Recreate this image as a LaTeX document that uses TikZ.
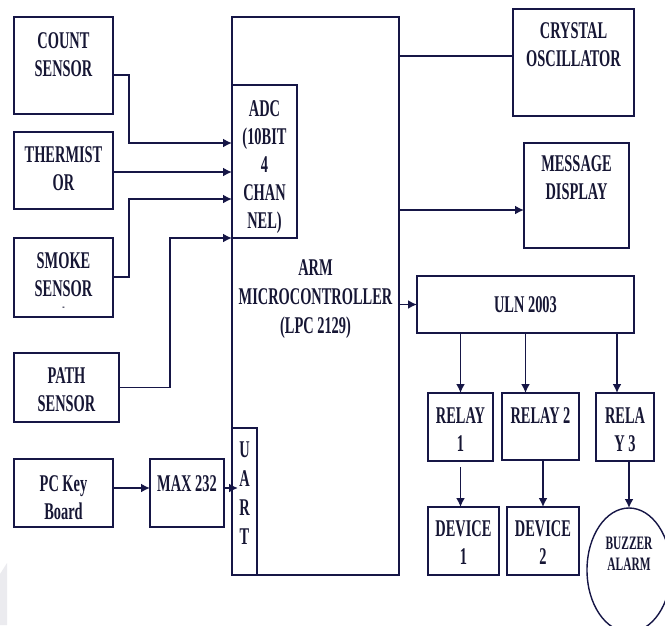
\documentclass[tikz,border=0pt]{standalone}
\usepackage{fontspec}
\setmainfont{Liberation Serif}[FakeStretch=0.6]
\usetikzlibrary{arrows.meta,positioning,shapes.geometric}
\definecolor{ink}{RGB}{22,22,70}
\definecolor{txt}{RGB}{22,22,52}

\begin{document}
\begin{tikzpicture}[x=1pt, y=-1pt,
    box/.style={draw=ink, line width=1.8pt, inner sep=0pt, outer sep=0pt},
    lbl/.style={align=center, inner sep=0pt, text=txt, font=\bfseries\fontsize{24}{28}\selectfont},
    small/.style={align=center, inner sep=0pt, text=txt, font=\bfseries\fontsize{19}{21}\selectfont},
    wire/.style={draw=ink, line width=1.8pt},
    arrow/.style={wire, -{Latex[length=9pt,width=9pt]}}
]
\clip (0,0) rectangle (665,625);
\fill[blue!10!gray!14] (0,574) -- (7,563) -- (7,625) -- (0,625) -- cycle;

\node[box, minimum width=99, minimum height=97] (count) at (63.5,65.5) {};
\node[box, minimum width=99, minimum height=77] (therm) at (63.5,170.5) {};
\node[box, minimum width=99, minimum height=79] (smoke) at (63.5,277.5) {};
\node[box, minimum width=105, minimum height=69] (path) at (66.5,387.5) {};
\node[box, minimum width=99, minimum height=68] (pc) at (63.5,493) {};
\node[box, minimum width=74, minimum height=68] (max) at (187,493) {};
\node[box, minimum width=167, minimum height=558] (arm) at (315.5,296) {};
\node[box, minimum width=65, minimum height=153] (adc) at (264.5,161.5) {};
\node[box, minimum width=25, minimum height=147] (uart) at (244.5,501.5) {};
\node[box, minimum width=121, minimum height=107] (xtal) at (573.5,62.5) {};
\node[box, minimum width=105, minimum height=105] (msg) at (576.5,195.5) {};
\node[box, minimum width=217, minimum height=57] (uln) at (525.5,304.5) {};
\node[box, minimum width=65, minimum height=68] (relay1) at (460.5,427) {};
\node[box, minimum width=77, minimum height=67] (relay2) at (540.5,426.5) {};
\node[box, minimum width=58, minimum height=68] (relay3) at (625,427) {};
\node[box, minimum width=71, minimum height=68] (dev1) at (463.5,541) {};
\node[box, minimum width=72, minimum height=68] (dev2) at (543,541) {};
\node[box, ellipse, line width=1.4pt, minimum width=84, minimum height=124] (buzz) at (629,570) {};

\node[lbl, below=15pt of count.north] (countT) {COUNT\\SENSOR};
\node[lbl, below=14pt of therm.north] (thermT) {THERMIST\\OR};
\node[lbl, below=14pt of smoke.north] (smokeT) {SMOKE\\SENSOR};
\node[text=txt, inner sep=0pt, font=\bfseries\fontsize{12}{12}\selectfont, above=6pt of smoke.south] (smokeD) {-};
\node[lbl, below=14pt of path.north] (pathT) {PATH\\SENSOR};
\node[lbl, below=16pt of pc.north] (pcT) {PC Key\\Board};
\node[lbl, below=16pt of max.north] (maxT) {MAX 232};
\node[lbl, below=15pt of adc.north] (adcT) {ADC\\(10BIT\\4\\CHAN\\NEL)};
\node[lbl, font=\bfseries\fontsize{24}{29}\selectfont, below=14pt of uart.north] (uartT) {U\\A\\R\\T};
\node[lbl, font=\bfseries\fontsize{24}{29}\selectfont] (armT) at ([yshift=-3pt]arm.center) {ARM\\MICROCONTROLLER\\(LPC 2129)};
\node[lbl, below=13pt of xtal.north] (xtalT) {CRYSTAL\\OSCILLATOR};
\node[lbl, below=12pt of msg.north] (msgT) {MESSAGE\\DISPLAY};
\node[lbl] (ulnT) at (uln.center) {ULN 2003};
\node[lbl, below=14pt of relay1.north] (relay1T) {RELAY\\1};
\node[lbl, below=14pt of relay2.north] (relay2T) {RELAY 2};
\node[lbl, below=14pt of relay3.north] (relay3T) {RELA\\Y 3};
\node[lbl, below=13pt of dev1.north] (dev1T) {DEVICE\\1};
\node[lbl, below=13pt of dev2.north] (dev2T) {DEVICE\\2};
\node[small] (buzzT) at ([yshift=16pt]buzz.center) {BUZZER\\ALARM};

\draw[arrow] (count.east |- 0,75) -- (129,75) |- (adc.west |- 0,143);
\draw[arrow] (therm.east |- 0,172) -- (adc.west |- 0,172);
\draw[arrow] (smoke.east |- 0,277) -- (129,277) |- (adc.west |- 0,199);
\draw[arrow] (path.east) -- (170,387.5) |- (adc.south west);
\draw[arrow] (pc.east |- 0,488) -- (max.west |- 0,488);
\draw[arrow] (max.east |- 0,488) -- ([xshift=6pt]uart.west |- 0,488);
\draw[wire] (arm.east |- 0,56) -- (xtal.west |- 0,56);
\draw[arrow] (arm.east |- 0,210) -- (msg.west |- 0,210);
\draw[arrow] (arm.east |- uln.west) -- (uln.west);
\draw[arrow] (uln.south -| relay1.north) -- (relay1.north);
\draw[arrow] (uln.south) -- (uln.south |- relay2.north);
\draw[arrow] (uln.south -| 617,0) -- (relay3.north -| 617,0);
\draw[arrow, shorten <=6pt] (relay1.south) -- (relay1.south |- dev1.north);
\draw[arrow] (relay2.south -| dev2.north) -- (dev2.north);
\draw[arrow] (relay3.south -| buzz.north) -- (buzz.north);
\end{tikzpicture}
\end{document}
